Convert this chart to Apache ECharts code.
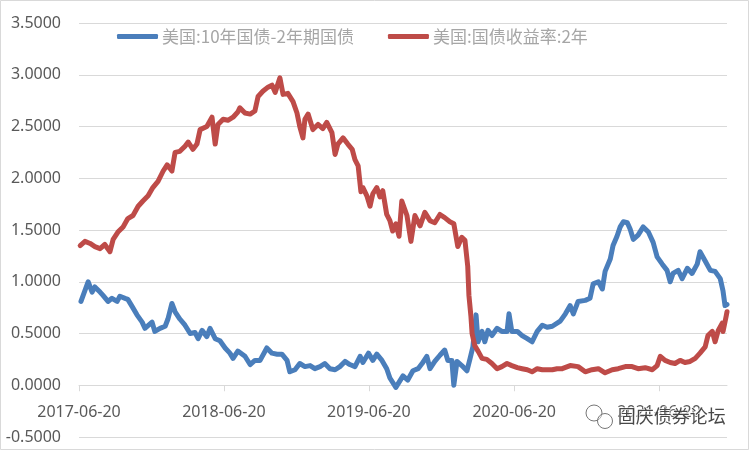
<!DOCTYPE html>
<html><head><meta charset="utf-8">
<script src="https://cdn.jsdelivr.net/npm/echarts@6/dist/echarts.min.js"></script>
<style>html,body{margin:0;padding:0;background:#fff}#c{width:751px;height:451px}</style>
</head><body><div id="c"></div>
<script>
const seriesNames = ['美国:10年国债-2年期国债', '美国:国债收益率:2年'];
const xStart = '2017-06-20';
const xEnd = '2021-12-08';
const tickDates = ['2017-06-20', '2018-06-20', '2019-06-20', '2020-06-20', '2021-06-20'];
const yTicks = [-0.5, 0, 0.5, 1, 1.5, 2, 2.5, 3, 3.5];

const blueDates = ['2017-06-25','2017-07-13','2017-07-23','2017-07-30','2017-08-12','2017-08-19','2017-09-01','2017-09-11','2017-09-24','2017-10-01','2017-10-14','2017-10-21','2017-11-01','2017-11-13','2017-11-26','2017-12-03','2017-12-21','2017-12-28','2018-01-10','2018-01-23','2018-01-30','2018-02-09','2018-02-17','2018-03-01','2018-03-14','2018-03-27','2018-04-08','2018-04-16','2018-04-26','2018-05-08','2018-05-16','2018-05-29','2018-06-10','2018-06-23','2018-07-05','2018-07-13','2018-07-25','2018-08-12','2018-08-25','2018-09-06','2018-09-19','2018-10-06','2018-10-19','2018-11-01','2018-11-13','2018-11-26','2018-12-03','2018-12-16','2018-12-28','2019-01-10','2019-01-23','2019-02-04','2019-02-17','2019-03-01','2019-03-14','2019-03-27','2019-04-08','2019-04-21','2019-05-03','2019-05-16','2019-05-29','2019-06-05','2019-06-19','2019-06-30','2019-07-10','2019-07-23','2019-08-04','2019-08-12','2019-08-27','2019-09-14','2019-09-26','2019-10-09','2019-10-22','2019-11-01','2019-11-13','2019-11-21','2019-12-03','2019-12-16','2019-12-28','2020-01-05','2020-01-15','2020-01-20','2020-01-28','2020-02-09','2020-02-22','2020-03-01','2020-03-08','2020-03-16','2020-03-21','2020-03-31','2020-04-07','2020-04-15','2020-04-25','2020-05-08','2020-05-20','2020-06-02','2020-06-07','2020-06-14','2020-06-28','2020-07-10','2020-07-23','2020-08-04','2020-08-17','2020-08-30','2020-09-11','2020-09-24','2020-10-14','2020-10-27','2020-11-08','2020-11-16','2020-11-28','2020-12-16','2020-12-28','2021-01-05','2021-01-18','2021-01-28','2021-02-04','2021-02-17','2021-02-24','2021-03-06','2021-03-14','2021-03-22','2021-04-01','2021-04-08','2021-04-16','2021-04-28','2021-05-11','2021-05-24','2021-06-05','2021-06-15','2021-06-28','2021-07-10','2021-07-18','2021-07-25','2021-08-07','2021-08-17','2021-08-30','2021-09-11','2021-09-24','2021-10-01','2021-10-14','2021-10-27','2021-11-08','2021-11-21','2021-11-28','2021-12-03','2021-12-08'];
const blueVals = [0.81,1.00,0.90,0.95,0.90,0.87,0.81,0.84,0.81,0.86,0.84,0.83,0.76,0.68,0.61,0.55,0.61,0.52,0.55,0.57,0.64,0.79,0.71,0.64,0.58,0.50,0.51,0.45,0.53,0.47,0.55,0.45,0.43,0.36,0.31,0.26,0.33,0.28,0.20,0.24,0.24,0.36,0.31,0.30,0.30,0.24,0.13,0.15,0.21,0.18,0.19,0.16,0.18,0.21,0.16,0.15,0.18,0.23,0.20,0.18,0.28,0.22,0.31,0.24,0.30,0.24,0.16,0.07,-0.02,0.09,0.05,0.14,0.16,0.21,0.28,0.16,0.23,0.29,0.34,0.24,0.24,0.00,0.23,0.19,0.14,0.26,0.37,0.68,0.42,0.52,0.42,0.53,0.48,0.55,0.52,0.52,0.69,0.52,0.52,0.48,0.45,0.42,0.52,0.58,0.56,0.57,0.62,0.69,0.77,0.69,0.81,0.82,0.84,0.98,1.00,0.93,1.10,1.22,1.35,1.44,1.53,1.58,1.57,1.51,1.41,1.45,1.53,1.48,1.38,1.24,1.17,1.11,1.00,1.08,1.11,1.03,1.13,1.08,1.17,1.29,1.20,1.11,1.10,1.03,0.91,0.77,0.78];

const redDates = ['2017-06-23','2017-07-05','2017-07-18','2017-07-30','2017-08-12','2017-08-24','2017-09-06','2017-09-14','2017-09-26','2017-10-09','2017-10-21','2017-11-03','2017-11-16','2017-11-28','2017-12-11','2017-12-23','2018-01-05','2018-01-18','2018-01-28','2018-02-09','2018-02-17','2018-03-01','2018-03-14','2018-03-22','2018-04-03','2018-04-13','2018-04-21','2018-05-08','2018-05-21','2018-05-29','2018-06-05','2018-06-18','2018-06-30','2018-07-13','2018-07-25','2018-07-30','2018-08-12','2018-08-25','2018-09-06','2018-09-14','2018-09-26','2018-10-09','2018-10-19','2018-10-27','2018-11-08','2018-11-16','2018-11-28','2018-12-11','2018-12-21','2018-12-28','2019-01-05','2019-01-10','2019-01-18','2019-01-30','2019-02-12','2019-02-24','2019-03-06','2019-03-19','2019-03-27','2019-04-03','2019-04-16','2019-04-28','2019-05-09','2019-05-16','2019-05-24','2019-05-31','2019-06-05','2019-06-15','2019-06-23','2019-06-30','2019-07-10','2019-07-18','2019-07-25','2019-08-04','2019-08-12','2019-08-19','2019-08-27','2019-09-04','2019-09-11','2019-09-24','2019-10-04','2019-10-14','2019-10-27','2019-11-08','2019-11-21','2019-12-03','2019-12-16','2019-12-28','2020-01-10','2020-01-20','2020-01-30','2020-02-09','2020-02-17','2020-02-24','2020-02-27','2020-03-03','2020-03-06','2020-03-13','2020-03-21','2020-03-31','2020-04-12','2020-04-25','2020-05-08','2020-05-20','2020-06-02','2020-06-14','2020-06-28','2020-07-10','2020-07-23','2020-08-04','2020-08-17','2020-08-30','2020-09-11','2020-09-24','2020-10-06','2020-10-19','2020-11-08','2020-11-28','2020-12-16','2021-01-02','2021-01-18','2021-02-04','2021-02-22','2021-03-09','2021-03-27','2021-04-13','2021-04-28','2021-05-16','2021-06-03','2021-06-15','2021-06-23','2021-07-05','2021-07-18','2021-07-30','2021-08-12','2021-08-24','2021-09-06','2021-09-19','2021-10-01','2021-10-14','2021-10-21','2021-11-01','2021-11-08','2021-11-16','2021-11-26','2021-11-28','2021-12-06','2021-12-08'];
const redVals = [1.35,1.39,1.37,1.34,1.32,1.36,1.29,1.41,1.48,1.53,1.61,1.64,1.73,1.78,1.83,1.91,1.97,2.07,2.13,2.07,2.25,2.26,2.31,2.35,2.28,2.33,2.47,2.50,2.59,2.33,2.52,2.57,2.56,2.59,2.64,2.68,2.63,2.62,2.65,2.79,2.84,2.88,2.90,2.83,2.97,2.81,2.82,2.74,2.63,2.50,2.39,2.57,2.62,2.47,2.52,2.48,2.54,2.44,2.23,2.33,2.39,2.33,2.28,2.18,2.12,1.87,1.91,1.83,1.73,1.85,1.91,1.82,1.88,1.65,1.59,1.49,1.56,1.44,1.78,1.64,1.39,1.64,1.54,1.67,1.59,1.57,1.65,1.62,1.58,1.56,1.34,1.43,1.40,1.15,0.87,0.67,0.50,0.38,0.33,0.26,0.25,0.21,0.16,0.18,0.21,0.19,0.17,0.16,0.15,0.13,0.16,0.15,0.15,0.15,0.16,0.16,0.19,0.18,0.13,0.15,0.16,0.12,0.15,0.16,0.18,0.18,0.16,0.17,0.15,0.19,0.28,0.24,0.22,0.21,0.24,0.22,0.23,0.26,0.31,0.37,0.48,0.52,0.42,0.53,0.60,0.52,0.67,0.71];

const DAY = 86400000;
const t0 = Date.parse(xStart);
const toDay = s => (Date.parse(s) - t0) / DAY;
const fmtDay = v => new Date(t0 + Math.round(v) * DAY).toISOString().slice(0, 10);
const pairs = (ds, vs) => ds.map((d, i) => [toDay(d), vs[i]]);

const yMin = yTicks[0], yMax = yTicks[yTicks.length - 1];
const plotTop = 23, plotH = 414;
const zeroH = plotH * (yMax - 0) / (yMax - yMin);

const chart = echarts.init(document.getElementById('c'));
const labelFont = '"Noto Sans", "Noto Sans CJK SC", sans-serif';
chart.setOption({
  animation: false,
  backgroundColor: '#fff',
  grid: [
    { left: 79, right: 24, top: plotTop, height: plotH, containLabel: false, outerBoundsMode: 'none' },
    { left: 79, right: 24, top: plotTop, height: zeroH, containLabel: false, outerBoundsMode: 'none' }
  ],
  legend: {
    data: seriesNames,
    left: 117, top: 28, padding: 0,
    itemGap: 34, itemWidth: 41, itemHeight: 5,
    icon: 'roundRect',
    textStyle: { color: '#a6a6a6', fontSize: 17, fontFamily: '"Noto Sans CJK SC", sans-serif', padding: [0, 0, 0, -1] }
  },
  xAxis: [
    { type: 'value', gridIndex: 0, min: 0, max: toDay(xEnd), show: false, splitLine: { show: false } },
    {
      type: 'value', gridIndex: 1, min: 0, max: toDay(xEnd), position: 'bottom',
      axisLine: { show: true, onZero: false, lineStyle: { color: '#d9d9d9', width: 1 } },
      axisTick: { show: true, length: 6, lineStyle: { color: '#d9d9d9' }, customValues: tickDates.map(toDay) },
      axisLabel: { customValues: tickDates.map(toDay), formatter: v => fmtDay(v), color: '#595959', fontSize: 16, fontFamily: labelFont, margin: 19 },
      splitLine: { show: false }
    }
  ],
  yAxis: [
    {
      type: 'value', gridIndex: 0,
      min: yMin, max: yMax, interval: 0.5,
      axisLine: { show: false, onZero: false }, axisTick: { show: false },
      axisLabel: { formatter: v => v.toFixed(4), color: '#595959', fontSize: 16, fontFamily: labelFont, margin: 18 },
      splitLine: { lineStyle: { color: '#d9d9d9', width: 1 } }
    },
    { type: 'value', gridIndex: 1, min: 0, max: yMax, show: false, splitLine: { show: false } }
  ],
  series: [
    { name: seriesNames[0], type: 'line', xAxisIndex: 0, yAxisIndex: 0, data: pairs(blueDates, blueVals), showSymbol: false, symbol: 'none',
      lineStyle: { color: '#4a7ebb', width: 5, join: 'round', cap: 'round' }, itemStyle: { color: '#4a7ebb' }, z: 3 },
    { name: seriesNames[1], type: 'line', xAxisIndex: 0, yAxisIndex: 0, data: pairs(redDates, redVals), showSymbol: false, symbol: 'none',
      lineStyle: { color: '#be4b48', width: 5, join: 'round', cap: 'round' }, itemStyle: { color: '#be4b48' }, z: 3 }
  ],
  graphic: [
    { type: 'rect', shape: { x: 0.5, y: 0.5, width: 748, height: 449 }, style: { fill: 'none', stroke: '#d9d9d9', lineWidth: 1 }, silent: true },
    { type: 'circle', shape: { cx: 594, cy: 413, r: 8 }, style: { fill: 'rgba(255,255,255,0.4)', stroke: '#777', lineWidth: 1 }, z: 100 },
    { type: 'circle', shape: { cx: 605, cy: 421, r: 7.5 }, style: { fill: 'rgba(255,255,255,0.4)', stroke: '#777', lineWidth: 1 }, z: 101 },
    { type: 'text', left: 617, top: 406, z: 102, style: { text: '固庆债券论坛', fontSize: 18, fill: 'rgba(40,40,40,0.85)', stroke: 'rgba(255,255,255,0.8)', lineWidth: 1.5, fontFamily: '"Noto Sans CJK SC", sans-serif' } }
  ]
});
</script></body></html>
